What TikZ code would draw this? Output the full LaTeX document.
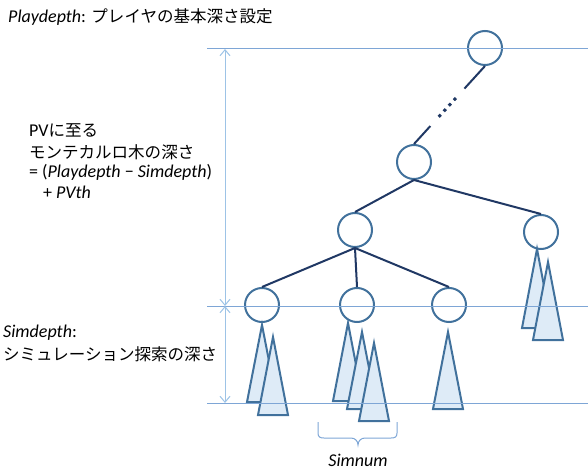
\documentclass[tikz,border=0pt]{standalone}
\usepackage{fontspec}
\setmainfont{Carlito}
\newfontfamily\jp[Scale=0.917]{Noto Sans CJK JP}
\usetikzlibrary{arrows.meta,calc}
\definecolor{guide}{HTML}{7EA6D6}
\definecolor{arrowc}{HTML}{9DC3E6}
\definecolor{circ}{HTML}{41719C}
\definecolor{edgec}{HTML}{203864}
\definecolor{trifill}{HTML}{DEEBF7}
\tikzset{
  treenode/.style={circle,draw=circ,line width=2pt,fill=white,minimum size=34pt,inner sep=0pt},
  edge/.style={draw=edgec,line width=2pt},
  tri/.style={draw=circ,fill=trifill,line width=2pt,line join=miter},
  guideline/.style={draw=guide,line width=1pt},
  dimarrow/.style={draw=arrowc,line width=1pt,{Straight Barb[length=6pt,width=10pt]}-{Straight Barb[length=6pt,width=10pt]}},
  lbl/.style={anchor=west,inner sep=0pt,font=\fontsize{18}{21}\selectfont},
}
\newcommand{\mytri}[3]{\path[tri] (#1,#2) -- (#1-15,#3) -- (#1+15,#3) -- cycle;}
\begin{document}
\begin{tikzpicture}[x=1pt,y=-1pt]
\useasboundingbox (0,0) rectangle (588,470);
% nodes
\node[treenode] (n0) at (485,48) {};
\node[treenode] (n1) at (414,162) {};
\node[treenode] (n2) at (355,230) {};
\node[treenode] (n3) at (541,232) {};
\node[treenode] (n4) at (262,305) {};
\node[treenode] (n5) at (357,305) {};
\node[treenode] (n6) at (449,305) {};
% edges
\draw[edge] (n0.south) -- ($(n0.south)!0.29!(n1.north)$);
\draw[edge,line width=3pt,dash pattern=on 3pt off 4.5pt] ($(n0.south)!0.41!(n1.north)$) -- ($(n0.south)!0.68!(n1.north)$);
\draw[edge] ($(n0.south)!0.77!(n1.north)$) -- (n1.north);
\draw[edge] (n1.south) -- (n2.north);
\draw[edge] (n1.south) -- (n3.north);
\draw[edge] (n2.south) -- (n4.north);
\draw[edge] (n2.south) -- (n5.north);
\draw[edge] (n2.south) -- (n6.north);
% triangles
\mytri{262}{325}{402}
\mytri{273}{337}{415}
\mytri{348}{323}{401}
\mytri{362}{332}{409}
\mytri{374}{343}{421}
\mytri{448}{332}{409}
\mytri{537}{249}{328}
\mytri{548}{262}{340}
% guide lines
\coordinate (gTopL) at (207,49);  \coordinate (gTopR) at (588,49);
\coordinate (gMidL) at (207,306); \coordinate (gMidR) at (588,306);
\coordinate (gBotL) at (207,403); \coordinate (gBotR) at (588,403);
\draw[guideline] (gTopL) -- (gTopR);
\draw[guideline] (gMidL) -- (gMidR);
\draw[guideline] (gBotL) -- (gBotR);
\coordinate (aTop) at (225,49);
\coordinate (aMid) at (225,306);
\coordinate (aBot) at (225,403);
\draw[dimarrow] (aMid) -- (aTop);
\draw[dimarrow] (aMid) -- (aBot);
% brace
\draw[draw=guide,line width=1pt] (318,422) -- (318,433) .. controls (318,437) and (320,438) .. (324,438) -- (351,438) .. controls (355,438) and (358,441) .. (358,445) .. controls (358,441) and (361,438) .. (365,438) -- (391,438) .. controls (395,438) and (397,437) .. (397,433) -- (397,422);
% texts
\node[lbl] (tPlay) at (8,17) {\textit{Playdepth}: {\jp プレイヤの基本深さ設定}};
\node[lbl] (tPV1) at (29,130) {PV{\jp に至る}};
\node[lbl] (tPV2) at (29,152) {\jp モンテカルロ木の深さ};
\node[lbl] (tPV3) at (29,172) {= (\textit{Playdepth} − \textit{Simdepth})};
\node[lbl] (tPV4) at (43,192) {+ \textit{PVth}};
\node[lbl] (tSim1) at (3,333) {\textit{Simdepth}:};
\node[lbl] (tSim2) at (3,354) {\jp シミュレーション探索の深さ};
\node[lbl,anchor=center] (tSimnum) at (358,460) {\textit{Simnum}};
\end{tikzpicture}
\end{document}
